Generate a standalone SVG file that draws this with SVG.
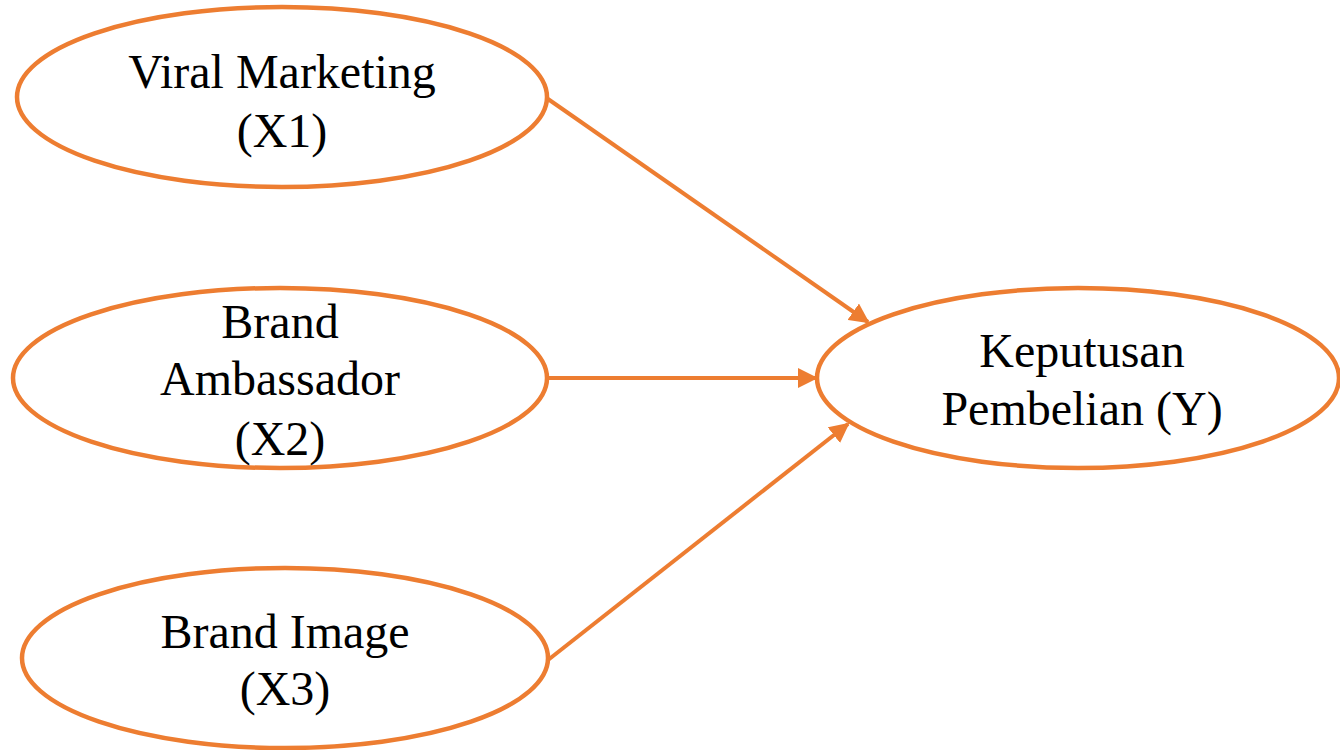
<svg xmlns="http://www.w3.org/2000/svg" width="1340" height="750" viewBox="0 0 1340 750">
<style>
.node ellipse{fill:#fff;stroke:#ED7D31;stroke-width:4.5}
.node text{font-family:"Liberation Serif","Times New Roman",serif;font-size:48px;fill:#000;text-anchor:middle}
.edge{stroke:#ED7D31;stroke-width:4;fill:none;marker-end:url(#arr)}
</style>
<defs>
<marker id="arr" markerWidth="5" markerHeight="5" refX="4.5" refY="2.5" orient="auto" markerUnits="strokeWidth">
<path d="M0,0 L5,2.5 L0,5 Z" fill="#ED7D31"/>
</marker>
</defs>
<rect width="1340" height="750" fill="#fff"/>
<g id="n1" class="node">
<ellipse cx="282" cy="97" rx="265" ry="90"/>
<text x="282" y="88">Viral Marketing</text>
<text x="282" y="147">(X1)</text>
</g>
<g id="n2" class="node">
<ellipse cx="280" cy="378" rx="267" ry="90"/>
<text x="280" y="338">Brand</text>
<text x="280" y="395">Ambassador</text>
<text x="280" y="455">(X2)</text>
</g>
<g id="n3" class="node">
<ellipse cx="285" cy="658" rx="263" ry="90"/>
<text x="285" y="648">Brand Image</text>
<text x="285" y="705">(X3)</text>
</g>
<g id="n4" class="node">
<ellipse cx="1078" cy="378" rx="261" ry="90"/>
<text x="1082" y="367">Keputusan</text>
<text x="1082" y="425">Pembelian (Y)</text>
</g>
<g id="edges">
<line class="edge" x1="548" y1="99" x2="868" y2="322"/>
<line class="edge" x1="548" y1="378" x2="816" y2="378"/>
<line class="edge" x1="548" y1="660" x2="848" y2="424"/>
</g>
</svg>
